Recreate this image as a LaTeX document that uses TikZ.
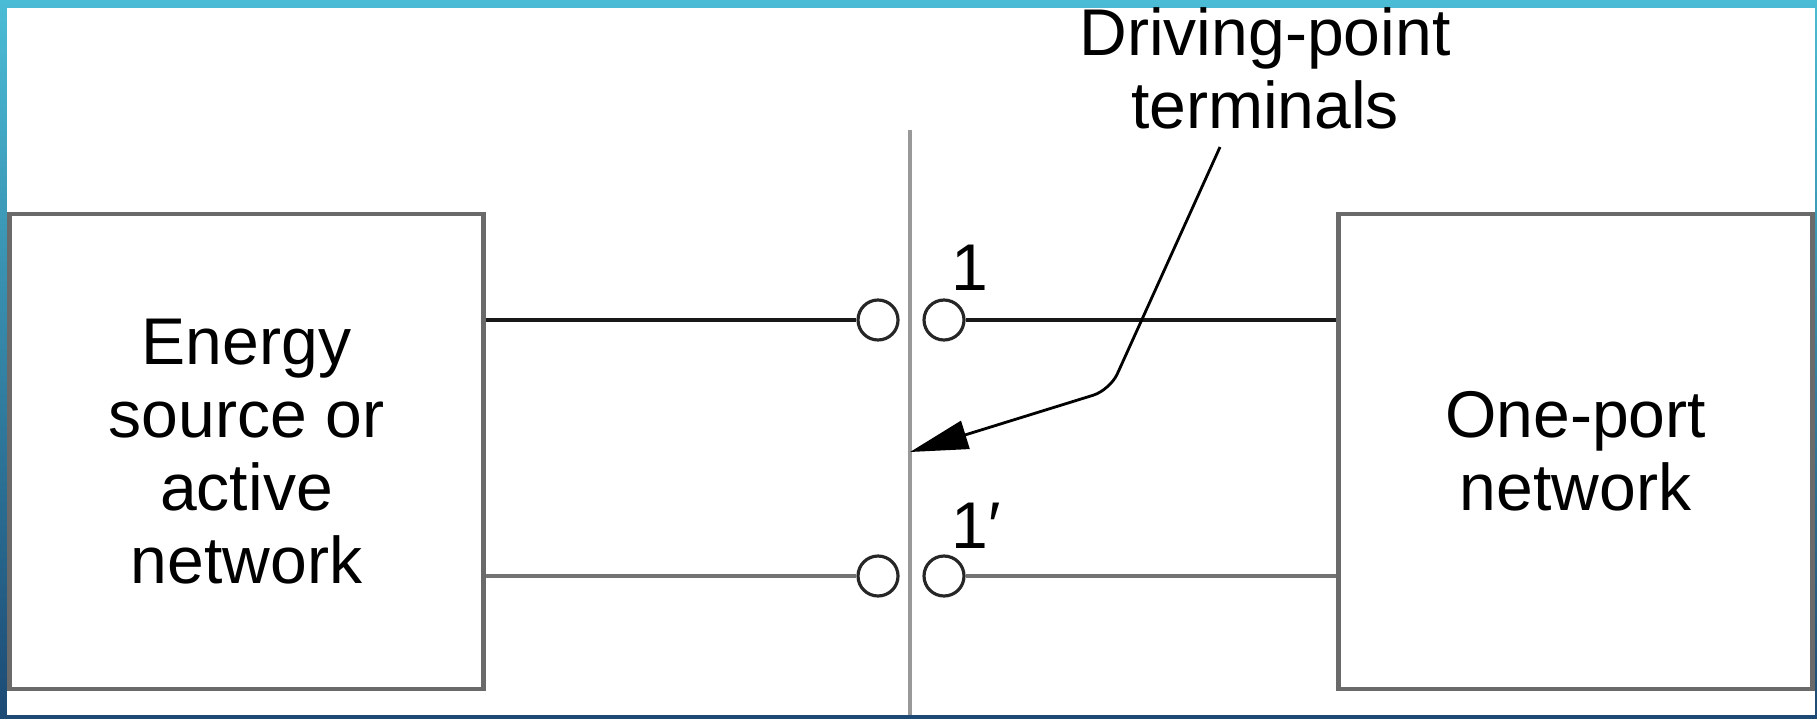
\documentclass[tikz,border=0pt]{standalone}
\usepackage{fontspec}
\setmainfont{Liberation Sans}
\usetikzlibrary{positioning,calc,arrows.meta}
\definecolor{frametop}{HTML}{4BBCD6}
\definecolor{framebot}{HTML}{1C4A74}
\definecolor{boxgray}{HTML}{6A6A6A}
\newcommand{\netfont}{\fontsize{18.8}{20.8}\selectfont}

\begin{document}
\begin{tikzpicture}[
  blk/.style={draw=boxgray, line width=1.3pt, fill=white,
              minimum width=4.74cm, minimum height=4.75cm,
              align=center, font=\netfont},
  term/.style={circle, draw=black!85, line width=0.9pt, fill=white,
               minimum size=0.40cm, inner sep=0pt},
  lbl/.style={inner sep=0pt, font=\netfont},
  wire/.style={line width=1.1pt, black!90},
  wire2/.style={line width=1.3pt, black!55},
  cut/.style={line width=1.2pt, black!40},
  pointer/.style={line width=0.8pt, rounded corners=5pt,
                  -{Triangle[length=5.8mm, width=2.9mm]}},
]
\useasboundingbox (0,0) rectangle (18.17,7.18);

% frame
\shade[top color=frametop, bottom color=framebot] (0,0) rectangle (18.17,7.18);
\fill[white] (0.07,0.03) rectangle (18.15,7.10);

\node[blk] (src) at (2.465,2.665) {Energy\\source or\\active\\network};
\node[blk] (port) at (15.755,2.665) {One-port\\network};

% driving-point cut
\coordinate (cuttop) at (9.10,5.88);
\coordinate (cutbot) at (9.10,0.03);
\draw[cut] (cuttop) -- (cutbot);

\node[term] (a1) at (8.78,3.98) {};
\node[term] (b1) at (9.44,3.98) {};
\node[term] (a2) at (8.78,1.42) {};
\node[term] (b2) at (9.44,1.42) {};

\draw[wire] (src.east |- a1) -- (a1);
\draw[wire] (b1) -- (port.west |- b1);
\draw[wire2] (src.east |- a2) -- (a2);
\draw[wire2] (b2) -- (port.west |- b2);

\node[lbl, anchor=base west] (n1) at (9.51,4.28) {1};
\node[lbl, anchor=base west] (n2) at (9.51,1.70) {1′};

% annotation
\node[lbl, align=center] (dpt) at (12.65,6.495) {Driving-point\\terminals};
\coordinate (bend) at (11.10,3.28);
\coordinate (tip) at (9.10,2.66);
\draw[pointer] ([xshift=-0.45cm, yshift=-0.17cm]dpt.south) -- (bend) -- (tip);

\end{tikzpicture}
\end{document}
